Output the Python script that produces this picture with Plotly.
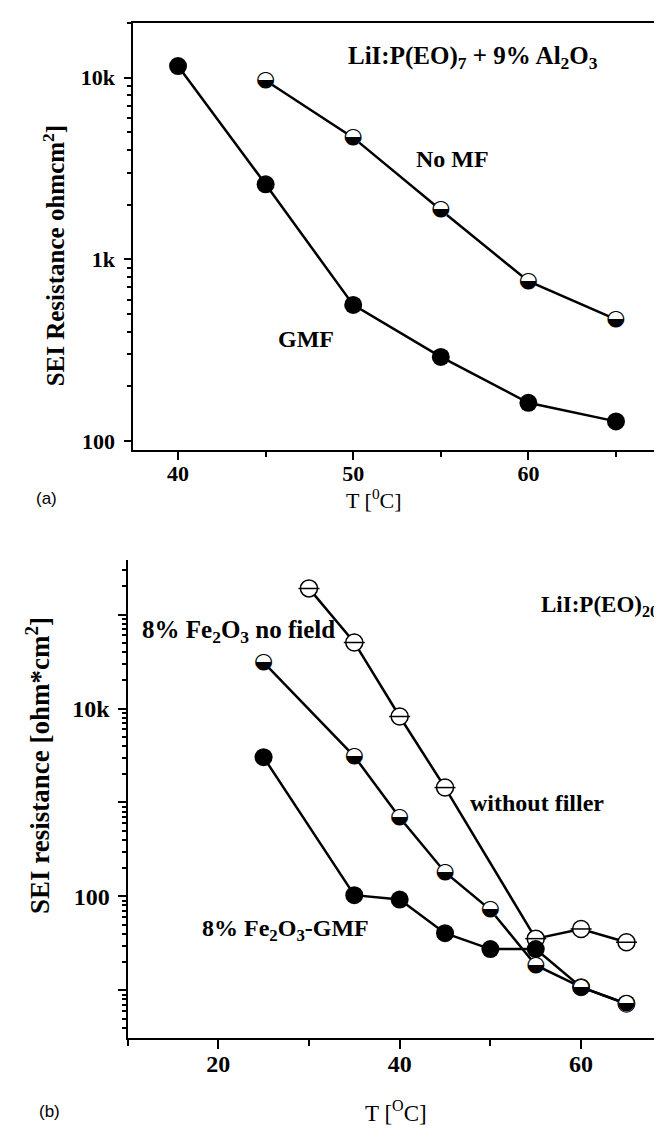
import plotly.graph_objects as go

# ---------------- data: panel (a) ----------------
T_a_gmf = [40, 45, 50, 55, 60, 65]
R_a_gmf = [11600, 2590, 561, 290, 162, 128]
T_a_nomf = [45, 50, 55, 60, 65]
R_a_nomf = [9670, 4680, 1870, 757, 467]

# ---------------- data: panel (b) ----------------
T_b_nofiller = [30, 35, 40, 45, 55, 60, 65]
R_b_nofiller = [190000, 50500, 8220, 1440, 35.5, 45, 32.5]
T_b_nofield = [25, 35, 40, 45, 50, 55, 60, 65]
R_b_nofield = [31000, 3100, 690, 181, 72, 18.5, 10.8, 7.2]
T_b_gmf = [25, 35, 40, 45, 50, 55, 60, 65]
R_b_gmf = [3030, 103, 92.5, 40.6, 27.5, 27.5, 10.8, 7.2]

W, H = 662, 1128
SERIF = "Liberation Serif"
HALF = "\u25D2"

def px(x):
    return x / W

def py(y):
    return 1 - y / H

fig = go.Figure()

# ---- panel (a) ----
fig.add_trace(go.Scatter(x=T_a_gmf, y=R_a_gmf, mode="lines+markers", xaxis="x", yaxis="y",
                         line=dict(color="black", width=2.5),
                         marker=dict(symbol="circle", size=18, color="black"),
                         hoverinfo="skip", showlegend=False))
fig.add_trace(go.Scatter(x=T_a_nomf, y=R_a_nomf, mode="lines", xaxis="x", yaxis="y",
                         line=dict(color="black", width=2.5), hoverinfo="skip", showlegend=False))
fig.add_trace(go.Scatter(x=T_a_nomf, y=R_a_nomf, mode="markers", xaxis="x", yaxis="y",
                         marker=dict(symbol="circle", size=16, color="white", line=dict(width=0)),
                         hoverinfo="skip", showlegend=False))
fig.add_trace(go.Scatter(x=T_a_nomf, y=R_a_nomf, mode="text", xaxis="x", yaxis="y",
                         text=[HALF] * len(T_a_nomf), textposition="middle center",
                         textfont=dict(family="DejaVu Sans", size=22, color="black"),
                         hoverinfo="skip", showlegend=False))

# ---- panel (b) ----
fig.add_trace(go.Scatter(x=T_b_nofiller, y=R_b_nofiller, mode="lines+markers", xaxis="x2", yaxis="y2",
                         line=dict(color="black", width=2.5),
                         marker=dict(symbol="circle", size=17, color="white",
                                     line=dict(color="black", width=1.5)),
                         hoverinfo="skip", showlegend=False))
fig.add_trace(go.Scatter(x=T_b_nofiller, y=R_b_nofiller, mode="markers", xaxis="x2", yaxis="y2",
                         marker=dict(symbol="line-ew", size=15, color="black",
                                     line=dict(color="black", width=1.5)),
                         hoverinfo="skip", showlegend=False))
fig.add_trace(go.Scatter(x=T_b_gmf, y=R_b_gmf, mode="lines+markers", xaxis="x2", yaxis="y2",
                         line=dict(color="black", width=2.5),
                         marker=dict(symbol="circle", size=18, color="black"),
                         hoverinfo="skip", showlegend=False))
fig.add_trace(go.Scatter(x=T_b_nofield, y=R_b_nofield, mode="lines", xaxis="x2", yaxis="y2",
                         line=dict(color="black", width=2.5), hoverinfo="skip", showlegend=False))
fig.add_trace(go.Scatter(x=T_b_nofield, y=R_b_nofield, mode="markers", xaxis="x2", yaxis="y2",
                         marker=dict(symbol="circle", size=16, color="white", line=dict(width=0)),
                         hoverinfo="skip", showlegend=False))
fig.add_trace(go.Scatter(x=T_b_nofield, y=R_b_nofield, mode="text", xaxis="x2", yaxis="y2",
                         text=[HALF] * len(T_b_nofield), textposition="middle center",
                         textfont=dict(family="DejaVu Sans", size=22, color="black"),
                         hoverinfo="skip", showlegend=False))

minor_a = [m * 10 ** e for e in (2, 3) for m in range(2, 10)] + [20000]
minor_b = [m * 10 ** e for e in (0, 1, 2, 3, 4) for m in range(2, 10)] + [200000, 300000, 400000]

common_axis = dict(showline=True, linecolor="black", linewidth=2, showgrid=False,
                   zeroline=False, ticks="outside", tickcolor="black", tickwidth=2)

fig.update_layout(
    width=W, height=H, margin=dict(l=0, r=0, t=0, b=0),
    paper_bgcolor="white", plot_bgcolor="white", showlegend=False,
    xaxis=dict(domain=[px(124.5), px(650)], range=[37.4, 67.4], anchor="y", mirror=True,
               tickvals=[40, 50, 60], ticklen=8,
               minor=dict(tickvals=[45, 55, 65], ticks="outside", ticklen=5, tickcolor="black", tickwidth=2),
               tickfont=dict(family=SERIF, size=22, color="black", weight="bold"),
               ticklabelstandoff=-6, **common_axis),
    yaxis=dict(domain=[py(443.3), py(15)], type="log", range=[1.949, 4.302], anchor="x", mirror=True,
               tickvals=[100, 1000, 10000], ticktext=["100", "1k", "10k"], ticklen=7,
               minor=dict(tickvals=minor_a, ticks="outside", ticklen=4, tickcolor="black", tickwidth=1.5),
               tickfont=dict(family=SERIF, size=22, color="black", weight="bold"),
               ticklabelstandoff=4, **common_axis),
    xaxis2=dict(domain=[px(119.5), 1.0], range=[10, 69.8], anchor="y2",
                tickvals=[20, 40, 60], ticklen=9,
                minor=dict(tickvals=[10, 30, 50, 70], ticks="outside", ticklen=6, tickcolor="black", tickwidth=2),
                tickfont=dict(family=SERIF, size=24, color="black", weight="bold"),
                ticklabelstandoff=-6, **common_axis),
    yaxis2=dict(domain=[py(1032.7), py(553)], type="log", range=[0.493, 5.586], anchor="x2",
                tickvals=[10, 100, 1000, 10000, 100000], ticktext=["", "100", "", "10k", ""], ticklen=8,
                minor=dict(tickvals=minor_b, ticks="outside", ticklen=4, tickcolor="black", tickwidth=1.5),
                tickfont=dict(family=SERIF, size=24, color="black", weight="bold"),
                ticklabelstandoff=3, **common_axis),
)

def ann(text, x, y, size, family=SERIF, xanchor="center", yanchor="middle", angle=0, color="black"):
    fig.add_annotation(text=text, x=px(x), y=py(y), xref="paper", yref="paper", showarrow=False,
                       xanchor=xanchor, yanchor=yanchor, textangle=angle,
                       font=dict(family=family, size=size, color=color))

# panel (a) texts
ann("<b>LiI:P(EO)<sub>7</sub> + 9% Al<sub>2</sub>O<sub>3</sub></b>", 338, 50, 25, xanchor="left")
ann("<b>No MF</b>", 444, 151, 24)
ann("<b>GMF</b>", 298, 332, 24)
ann("<b>SEI Resistance ohmcm<sup>2</sup>]</b>", 46, 248, 25, angle=-90)
ann("T [<sup>0</sup>C]", 366, 492, 22)
ann("(a)", 38, 492, 17, family="Liberation Sans")

# panel (b) texts
ann("<b>LiI:P(EO)<sub>20</sub></b>", 531, 600, 23, xanchor="left")
ann("<b>8% Fe<sub>2</sub>O<sub>3</sub> no field</b>", 132, 625, 25, xanchor="left")
ann("<b>without filler</b>", 460, 797, 24, xanchor="left")
ann("<b>8% Fe<sub>2</sub>O<sub>3</sub>-GMF</b>", 192, 924, 24, xanchor="left")
ann("<b>SEI resistance [ohm*cm<sup>2</sup>]</b>", 30, 760, 27, angle=-90)
ann("T [<sup>O</sup>C]", 388, 1106, 23)
ann("(b)", 41, 1106, 17, family="Liberation Sans")

fig.write_html("out.html")
